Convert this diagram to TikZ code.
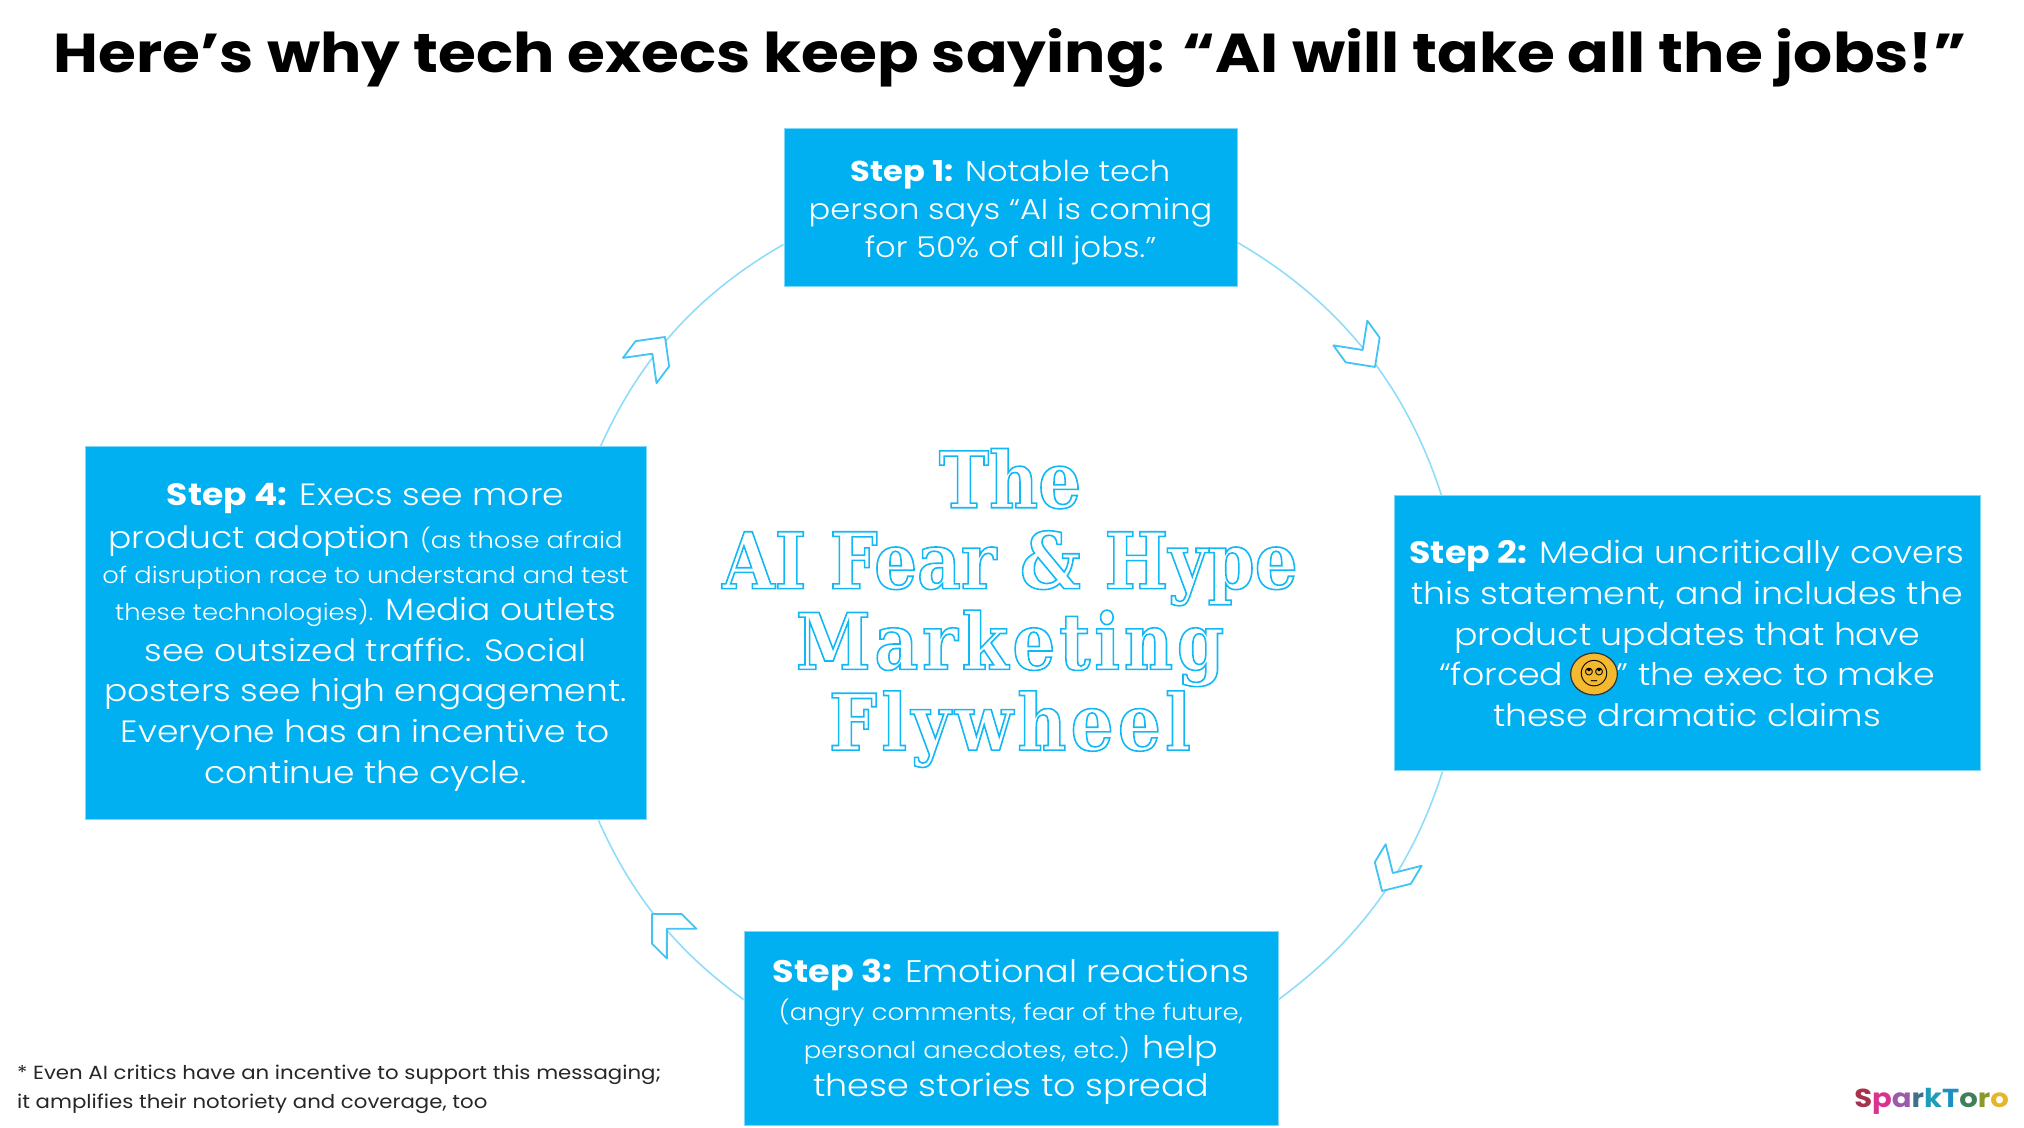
\documentclass[tikz,border=0pt]{standalone}
\usepackage{fontspec}
\setmainfont[FakeStretch=1.12]{Poppins}
\newfontfamily\lightfont[FakeStretch=1.12]{Poppins Light}
\newfontfamily\slabfont[FakeStretch=0.866]{DejaVu Serif Bold}
\newfontfamily\emojifont{Noto Emoji}
\usetikzlibrary{positioning, calc, shapes.geometric}
\definecolor{stepblue}{HTML}{00B0F0}
\definecolor{ringblue}{HTML}{8FDDFA}
\definecolor{chevblue}{HTML}{3FC4F5}
\definecolor{wheelblue}{HTML}{12B8F5}
\definecolor{facegold}{HTML}{F4B92E}
\newcommand{\strokeon}{\special{pdf:code 1 Tr 0.8 w}}
\newcommand{\strokeoff}{\special{pdf:code 0 Tr}}
\newcommand{\bodysize}[2]{\fontsize{#1}{#2}\selectfont}
\newcommand{\toppad}[1]{\rule{0pt}{#1}}

\begin{document}
\begin{tikzpicture}[
    x=0.5pt, y=0.5pt,
    step_box/.style={rectangle, fill=stepblue, draw=stepblue!50!white, line width=0.5pt, text=white, align=center, inner sep=0pt},
    flow/.style={draw=ringblue, line width=0.8pt},
    chevron/.style={draw=chevblue, fill=white, line width=0.9pt, line join=round}
]
\useasboundingbox (0,0) rectangle (2024,1128);

% TITLE
\node[font=\bfseries\fontsize{27.4}{34}\selectfont] (title) at (1010,1070) {Here’s why tech execs keep saying: “AI will take all the jobs!”};

% STEPS
\node[step_box, minimum width=226.5pt, minimum height=79pt, font=\lightfont\bodysize{14.35}{19}] (step1) at (1010.5,920)
    {\toppad{15pt}{\bfseries\rmfamily Step 1:} Notable tech\\person says “AI is coming\\for 50\% of all jobs.”};
\node[step_box, minimum width=293pt, minimum height=137.5pt, font=\lightfont\bodysize{15.5}{20.3}] (step2) at (1687,494.5)
    {{\bfseries\rmfamily Step 2:} Media uncritically covers\\this statement, and includes the\\product updates that have\\“forced \hspace{22pt}” the exec to make\\these dramatic claims};
\node[step_box, minimum width=267pt, minimum height=97pt, font=\lightfont\bodysize{15.6}{19}] (step3) at (1011,99)
    {\toppad{15pt}{\bfseries\rmfamily Step 3:} Emotional reactions\\{\bodysize{11.55}{19}(angry comments, fear of the future,}\\{\bodysize{11.55}{19}personal anecdotes, etc.)} help\\these stories to spread};
\node[step_box, minimum width=280.5pt, minimum height=186.5pt, font=\lightfont\bodysize{15.4}{20.3}] (step4) at (365.5,494.5)
    {\toppad{15pt}{\bfseries\rmfamily Step 4:} Execs see more\\[1pt]product adoption {\bodysize{11.5}{20.3}(as those afraid}\\[-2.9pt]{\bodysize{11.5}{20.3}of disruption race to understand and test}\\[-1.6pt]{\bodysize{11.5}{20.3}these technologies).} Media outlets\\see outsized traffic. Social\\posters see high engagement.\\Everyone has an incentive to\\continue the cycle.};

% FLYWHEEL
\draw[flow] ($(step1.north east)+(0,-114)$) to[bend left=21, looseness=0.92] ($(step2.north west)+(48,0)$);
\draw[flow] ($(step2.south west)+(49,0)$) to[bend left=18, looseness=0.92] ($(step3.north east)+(0,-68)$);
\draw[flow] ($(step3.north west)+(0,-68)$) to[bend left=15, looseness=0.92] ($(step4.south east)+(-48,0)$);
\draw[flow] ($(step4.north east)+(-46,0)$) to[bend left=18, looseness=0.92] ($(step1.north west)+(0,-116)$);
\foreach \tipx/\tipy/\tiprot in {1375/761/-54, 1382/237/239, 652/214/135, 665/791/53} {
    \draw[chevron, shift={(\tipx,\tipy)}, rotate=\tiprot] (0,0) -- (-21,21) -- (-42,21) -- (-21,0) -- (-42,-21) -- (-21,-21) -- cycle;
}

% ROLLING EYES
\node[ellipse, fill=facegold, draw=black!80, line width=0.6pt, inner sep=0pt, minimum width=18pt, minimum height=21pt, text=black, font=\emojifont\fontsize{13}{13}\selectfont] (face) at (1594,454) {🙄};

% CENTRE TEXT
\node[align=center, text=wheelblue, font=\slabfont\fontsize{39}{40.4}\selectfont] (wheel) at (1010,520)
    {\strokeon The\\AI Fear \& Hype\\{\addfontfeature{LetterSpace=5}Marketing}\\{\addfontfeature{LetterSpace=5.5}Flywheel}\strokeoff};

% FOOTNOTE & LOGO
\node[anchor=west, align=left, text=black!85, font=\bodysize{9.5}{14.5}] (note) at (10,39)
    {* Even AI critics have an incentive to support this messaging;\\it amplifies their notoriety and coverage, too};
\node[anchor=east, font=\bfseries\fontsize{13}{13}\selectfont] (logo) at (2016,27)
    {\textcolor[HTML]{A8324A}{S}\textcolor[HTML]{D9338F}{p}\textcolor[HTML]{9A5BA8}{a}\textcolor[HTML]{3F6F8A}{r}\textcolor[HTML]{1E9DB8}{k}\textcolor[HTML]{1C90C4}{T}\textcolor[HTML]{3F7F5A}{o}\textcolor[HTML]{8A9A2A}{r}\textcolor[HTML]{E8B52A}{o}};
\end{tikzpicture}
\end{document}
